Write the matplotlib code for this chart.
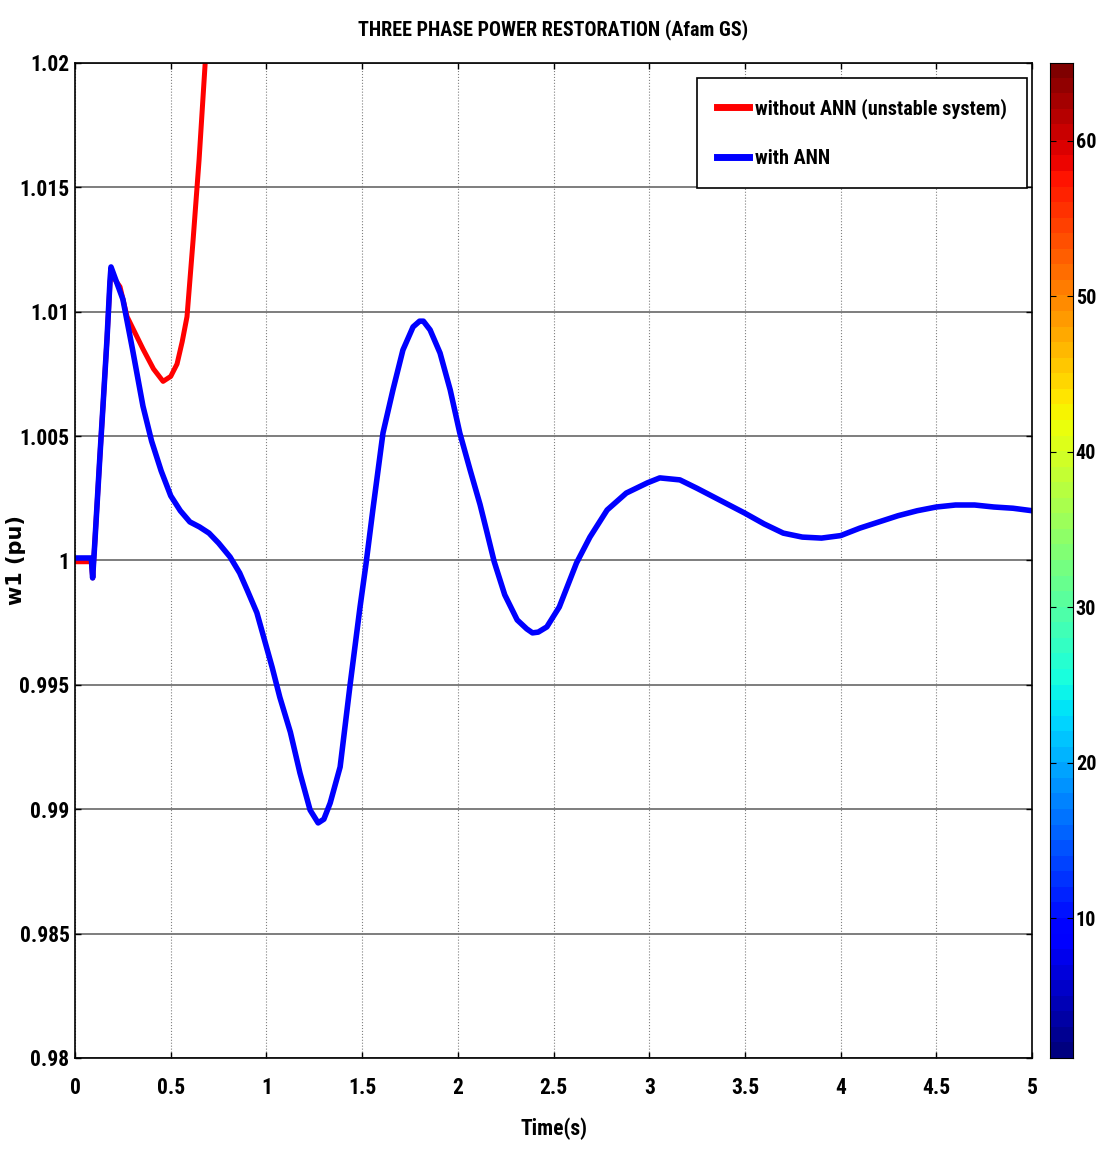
import numpy as np
import matplotlib
matplotlib.use("Agg")
import matplotlib.pyplot as plt
from matplotlib import font_manager
from matplotlib.ticker import FormatStrFormatter

# font: narrow bold like the MATLAB export, fall back to Arial-like
names = {f.name for f in font_manager.fontManager.ttflist}
fam = 'Liberation Sans'
for cand in ['Liberation Sans Narrow', 'Arial Narrow', 'Roboto Condensed']:
    if cand in names:
        fam = cand
        break
narrow = fam != 'Liberation Sans'
plt.rcParams['font.family'] = [fam, 'DejaVu Sans']
plt.rcParams['font.weight'] = 'bold'
fs = 14.5 if narrow else 12.5

# with ANN (blue)
t_ann = [0.0, 0.085, 0.092, 0.104, 0.13, 0.146, 0.167, 0.183, 0.188, 0.25, 0.3, 0.355,
         0.4, 0.45, 0.5, 0.55, 0.6, 0.65, 0.7, 0.75, 0.81, 0.86, 0.9, 0.95, 0.99, 1.03,
         1.07, 1.125, 1.175, 1.228, 1.27, 1.3, 1.333, 1.385, 1.437, 1.489, 1.52, 1.557,
         1.609, 1.661, 1.713, 1.766, 1.80, 1.82, 1.855, 1.907, 1.96, 2.01, 2.064, 2.116,
         2.15, 2.19, 2.245, 2.31, 2.36, 2.39, 2.42, 2.465, 2.53, 2.62, 2.69, 2.78, 2.88,
         2.99, 3.055, 3.16, 3.25, 3.3, 3.4, 3.5, 3.6, 3.7, 3.8, 3.9,
         4.0, 4.1, 4.2, 4.3, 4.4, 4.5, 4.6, 4.7, 4.8, 4.9, 5.0]
w_ann = [1.0001, 1.0001, 0.9993, 1.0008, 1.0042, 1.0062, 1.0089, 1.0113, 1.0118, 1.0105,
         1.0085, 1.0062, 1.0048, 1.0036, 1.0026, 1.0020, 1.00155, 1.00135, 1.0011, 1.0007,
         1.00014, 0.9995, 0.9988, 0.9979, 0.9968, 0.9957, 0.9945, 0.9931, 0.99146, 0.98997,
         0.98945, 0.9896, 0.99025, 0.9917, 0.9950, 0.99813, 0.99985, 1.0021, 1.00513,
         1.00686, 1.00846, 1.00939, 1.00962, 1.00962, 1.00927, 1.00834, 1.00686, 1.00513,
         1.00364, 1.00225, 1.0012, 0.99995, 0.99862, 0.99761, 0.99725, 0.99709, 0.99712,
         0.99733, 0.99813, 0.9999, 1.00094, 1.00203, 1.00271, 1.00312, 1.00332, 1.00324,
         1.0029, 1.0027, 1.0023, 1.0019, 1.00147, 1.0011, 1.00094, 1.0009,
         1.0010, 1.0013, 1.00155, 1.0018, 1.0020, 1.00215, 1.00223, 1.00223, 1.00215,
         1.0021, 1.0020]

# without ANN (red)
t_no = [0.0, 0.085, 0.092, 0.104, 0.13, 0.146, 0.167, 0.183, 0.19, 0.235, 0.272, 0.355,
        0.41, 0.46, 0.5, 0.533, 0.56, 0.585, 0.617, 0.648, 0.68, 0.70]
w_no = [0.99995, 0.99995, 0.9993, 1.0008, 1.0042, 1.0062, 1.0089, 1.0112, 1.0115, 1.0110,
        1.0098, 1.0085, 1.0077, 1.0072, 1.0074, 1.0079, 1.0088, 1.0098, 1.0129, 1.0161,
        1.0200, 1.0220]

yticks = [0.98, 0.985, 0.99, 0.995, 1.0, 1.005, 1.01, 1.015, 1.02]
xticks = [0, 0.5, 1, 1.5, 2, 2.5, 3, 3.5, 4, 4.5, 5]
cticks = [10, 20, 30, 40, 50, 60]

fig = plt.figure(figsize=(10.97, 11.51), dpi=100, facecolor='w')
ax = fig.add_axes([0.0684, 0.0808, 0.8724, 0.8645])
ax.plot(t_no, w_no, color='#ff0000', lw=3.6, label='without ANN (unstable system)')
ax.plot(t_ann, w_ann, color='#0000ff', lw=4.0, label='with ANN')
ax.set_xlim(0, 5)
ax.set_ylim(0.98, 1.02)
ax.set_xticks(xticks)
ax.set_yticks(yticks)
ax.yaxis.set_major_formatter(FormatStrFormatter('%g'))
ax.xaxis.set_major_formatter(FormatStrFormatter('%g'))
ax.tick_params(direction='in', length=4, width=1, top=True, right=True, labelsize=fs + 1)
ax.tick_params(axis='x', pad=14)
ax.tick_params(axis='y', pad=4)
ax.yaxis.grid(True, color='0.45', lw=1.3, ls='-')
ax.xaxis.grid(True, color='0.5', lw=0.8, ls=':')
for s in ax.spines.values():
    s.set_linewidth(1.2)
ax.set_xlabel('Time(s)', fontsize=fs + 1, fontweight='bold', labelpad=13)
ax.set_ylabel('w1 (pu)', fontsize=15, fontweight='bold', family='DejaVu Sans')
ax.yaxis.set_label_coords(-0.051, 0.5)
ax.set_title('THREE PHASE POWER RESTORATION (Afam GS)', fontsize=fs, fontweight='bold', pad=20)
leg = ax.legend(loc='upper right', fontsize=fs, frameon=True, fancybox=False, framealpha=1,
                handlelength=1.6, handletextpad=0.3, borderpad=1.0, labelspacing=1.5,
                borderaxespad=0, bbox_to_anchor=(0.9948, 0.985))
leg.get_frame().set_edgecolor('k')
leg.get_frame().set_linewidth(1.2)
for h in leg.legend_handles:
    h.set_linewidth(5)

# colorbar
cax = fig.add_axes([0.9571, 0.0808, 0.021, 0.8645])
cmap = plt.get_cmap('jet', 64)
cax.imshow(np.arange(1, 65).reshape(-1, 1), cmap=cmap, aspect='auto', origin='lower',
           extent=[0, 1, 1, 65])
cax.set_xlim(0, 1)
cax.set_ylim(1, 65)
cax.set_xticks([])
cax.set_yticks(cticks)
cax.yaxis.tick_right()
cax.tick_params(direction='in', length=4, left=True, right=True, labelsize=fs, pad=2)

fig.savefig('out.png', dpi=100)
